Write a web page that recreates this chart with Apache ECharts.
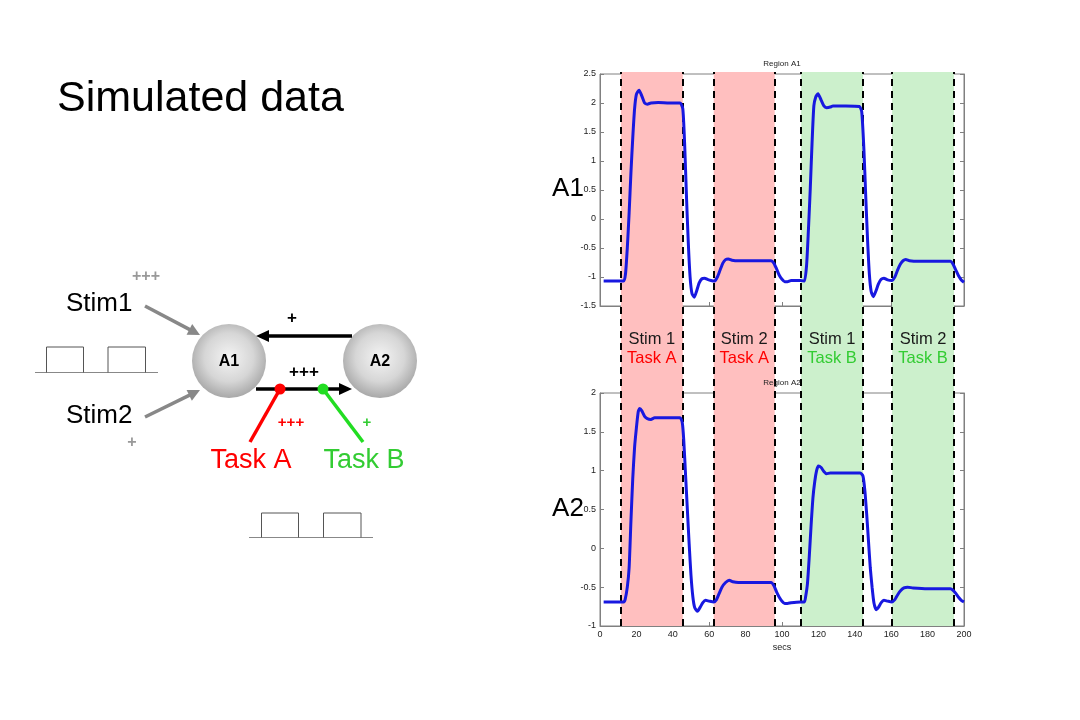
<!DOCTYPE html>
<html>
<head>
<meta charset="utf-8">
<script src="https://cdn.jsdelivr.net/npm/echarts@6/dist/echarts.min.js"></script>
<style>html,body{margin:0;padding:0;background:#fff;}#chart{width:1080px;height:720px;}</style>
</head>
<body>
<div id="chart"></div>
<script>
// ---- data ----
const xTicks = [0, 20, 40, 60, 80, 100, 120, 140, 160, 180, 200];
const blockStarts = [11.5, 62.5, 110.5, 160.5];
const blockEnds = [45.5, 96, 144.5, 194.5];
const blockStim = ['Stim 1', 'Stim 2', 'Stim 1', 'Stim 2'];
const blockTask = ['Task A', 'Task A', 'Task B', 'Task B'];

const timeA1 = [2,13,14,15,16,17,18,19,20,21.5,23,24.5,26,28,32,38,44,45.5,46.5,47.5,48.5,49.5,50.5,51.8,53,54.5,56,57.5,59,61,63,64.5,66,67.5,69,70.5,72.5,76,85,94,95.5,97,98.5,100,101.5,103,105,110,112.3,113.5,114.5,115.5,116.5,117.5,118.5,119.8,121.5,123,124.5,126.5,128,135,142.5,143.8,145,146,147,148,149,150.2,151.5,153,154.5,156,158,160.3,162,163.5,165,166.5,168,170,175,185,192.5,194,195.5,197,198.5,200];
const regionA1 = [-1.07,-1.07,-0.95,-0.5,0.1,0.8,1.4,1.9,2.15,2.22,2.12,2.0,1.98,2.0,2.01,2.0,2.0,1.9,1.3,0.4,-0.4,-1.0,-1.28,-1.35,-1.25,-1.1,-1.03,-1.02,-1.04,-1.06,-1.07,-1.0,-0.88,-0.76,-0.7,-0.69,-0.71,-0.72,-0.72,-0.72,-0.76,-0.86,-0.97,-1.04,-1.08,-1.08,-1.06,-1.06,-1.07,-0.8,-0.2,0.5,1.3,1.95,2.1,2.16,2.05,1.95,1.92,1.93,1.95,1.95,1.94,1.85,1.2,0.4,-0.35,-0.95,-1.25,-1.34,-1.25,-1.12,-1.04,-1.02,-1.05,-1.06,-1.0,-0.88,-0.78,-0.72,-0.7,-0.72,-0.73,-0.73,-0.73,-0.78,-0.88,-0.98,-1.05,-1.09];

const timeA2 = [2,13,13.8,15,16,17,18,19,20,21,21.8,23,24.5,26,28,30,35,44,45.2,46,47,48,49,50,51,52,53.5,55,56.5,58,60,62.5,64,65.5,67,69,71,73,76,85,94,95.5,97,98.5,100,101.5,103,105,110,112.3,113,114,115,116,117,118,119,120,121.5,123,124.5,126.5,135,143,144.5,145.5,146.5,147.5,148.5,149.5,150.5,151.8,153,154.5,156,158,160.3,162,163.5,165,167,169,172,180,192.5,194,195.5,197,198.5,200];
const regionA2 = [-0.69,-0.69,-0.66,-0.5,-0.25,0.35,0.9,1.3,1.55,1.76,1.8,1.77,1.7,1.67,1.66,1.68,1.68,1.68,1.62,1.4,0.95,0.5,0.05,-0.35,-0.62,-0.76,-0.81,-0.76,-0.7,-0.67,-0.68,-0.69,-0.66,-0.58,-0.5,-0.44,-0.41,-0.43,-0.44,-0.44,-0.44,-0.48,-0.56,-0.63,-0.68,-0.71,-0.71,-0.7,-0.69,-0.69,-0.62,-0.45,-0.1,0.3,0.65,0.86,1.0,1.06,1.04,0.99,0.96,0.97,0.97,0.97,0.93,0.75,0.45,0.1,-0.25,-0.5,-0.7,-0.79,-0.76,-0.7,-0.67,-0.68,-0.69,-0.66,-0.6,-0.55,-0.51,-0.5,-0.51,-0.52,-0.52,-0.54,-0.58,-0.63,-0.67,-0.69];

// ---- styling ----
const FONT = 'Arial, "Liberation Sans", Helvetica, sans-serif';
const PINK = '#FFBFBF', GREEN = '#CCF0CC';
const RED = '#FF0000', GRN = '#33CC33', GRAY = '#999999';

const chart = echarts.init(document.getElementById('chart'), null, {renderer: 'canvas'});

function zip(t, v) { return t.map((x, i) => [x, v[i]]); }

function arrow(x1, y1, x2, y2, color, w, head, half) {
  const dx = x2 - x1, dy = y2 - y1, L = Math.hypot(dx, dy);
  const ux = dx / L, uy = dy / L;
  const bx = x2 - ux * head, by = y2 - uy * head;
  const px = -uy * half, py = ux * half;
  return [
    {type: 'line', shape: {x1: x1, y1: y1, x2: bx + ux, y2: by + uy}, style: {stroke: color, lineWidth: w}},
    {type: 'polygon', shape: {points: [[x2, y2], [bx + px, by + py], [bx - px, by - py]]}, style: {fill: color}}
  ];
}
function txt(x, y, s, size, color, weight, align) {
  return {type: 'text', x: x, y: y, style: {text: s, font: (weight || 'normal') + ' ' + size + 'px ' + FONT,
    fill: color, textAlign: align || 'center', align: align || 'center', textVerticalAlign: 'middle', verticalAlign: 'middle'}};
}
function pulseTrain(x0, x1, base, top, p) {
  const els = [{type: 'line', shape: {x1: x0, y1: base, x2: x1, y2: base}, style: {stroke: '#888', lineWidth: 1.2}}];
  p.forEach(function (q) {
    els.push({type: 'polyline', shape: {points: [[q[0], base], [q[0], top], [q[1], top], [q[1], base]]},
      style: {stroke: '#555', lineWidth: 1, fill: null}});
  });
  return els;
}
function circle(cx, cy, r) {
  return {type: 'circle', shape: {cx: cx, cy: cy, r: r},
    style: {fill: new echarts.graphic.RadialGradient(0.5, 0.45, 0.55, [
      {offset: 0, color: '#f4f4f4'}, {offset: 0.6, color: '#d6d6d6'}, {offset: 1, color: '#a8a8a8'}])}};
}

const graphics = [].concat(
  [txt(146, 277, '+++', 16, GRAY, 'bold'),
   txt(66, 304, 'Stim1', 26, '#000', 'normal', 'left'),
   txt(66, 416, 'Stim2', 26, '#000', 'normal', 'left'),
   txt(132, 443, '+', 16, GRAY, 'bold')],
  arrow(145, 306, 200, 335, '#888', 3.5, 12, 6),
  arrow(145, 417, 200, 390, '#888', 3.5, 12, 6),
  pulseTrain(35, 158, 372.5, 347, [[46.5, 83.5], [108, 145.5]]),
  pulseTrain(249, 373, 537.5, 513, [[261.5, 298.5], [323.5, 361]]),
  [circle(229, 361, 37), circle(380, 361, 37)],
  arrow(352, 336, 256, 336, '#000', 3.5, 13, 6),
  arrow(256, 389, 352, 389, '#000', 3.5, 13, 6),
  [{type: 'line', shape: {x1: 280, y1: 389, x2: 250, y2: 442}, style: {stroke: RED, lineWidth: 3.5}},
   {type: 'line', shape: {x1: 323, y1: 389, x2: 363, y2: 442}, style: {stroke: '#22DD22', lineWidth: 3.5}},
   {type: 'circle', shape: {cx: 280, cy: 389, r: 5.5}, style: {fill: RED}},
   {type: 'circle', shape: {cx: 323, cy: 389, r: 5.5}, style: {fill: '#22DD22'}},
   txt(229, 362, 'A1', 16, '#000', 'bold'),
   txt(380, 362, 'A2', 16, '#000', 'bold'),
   txt(292, 318, '+', 17, '#000', 'bold'),
   txt(304, 372, '+++', 17, '#000', 'bold'),
   txt(291, 423, '+++', 15, RED, 'bold'),
   txt(367, 423, '+', 15, GRN, 'bold'),
   txt(251, 461, 'Task A', 27, RED),
   txt(364, 461, 'Task B', 27, GRN),
   txt(568, 189, 'A1', 26, '#000'),
   txt(568, 509, 'A2', 26, '#000')]
);

const axisLineStyle = {onZero: false, lineStyle: {color: '#808080', width: 1}};
const tickStyle = {show: true, inside: true, length: 4, lineStyle: {color: '#808080'}};
const labelStyle = {fontSize: 9, color: '#222', fontFamily: FONT, margin: 4};

function plotX(gi, showLabels) {
  return {gridIndex: gi, type: 'value', min: 0, max: 200, interval: 20,
    axisLine: Object.assign({show: true}, axisLineStyle), axisTick: tickStyle, splitLine: {show: false},
    axisLabel: Object.assign({show: showLabels}, labelStyle)};
}
function plotY(gi, min, max, right) {
  return {gridIndex: gi, type: 'value', min: min, max: max, interval: 0.5, position: right ? 'right' : 'left',
    axisLine: Object.assign({show: true}, axisLineStyle), axisTick: tickStyle, splitLine: {show: false},
    axisLabel: Object.assign({show: !right}, labelStyle)};
}

const bandData = blockStarts.map(function (s, i) {
  const isA = blockTask[i] === 'Task A';
  return [{xAxis: s, itemStyle: {color: isA ? PINK : GREEN},
           label: {formatter: '{s|' + blockStim[i] + '}\n{' + (isA ? 'a' : 'b') + '|' + blockTask[i] + '}'}},
          {xAxis: blockEnds[i]}];
});
const dashData = blockStarts.concat(blockEnds).map(function (x) { return {xAxis: x}; });

const option = {
  backgroundColor: '#fff',
  animation: false,
  title: [
    {text: 'Simulated data', left: 57, top: 78, padding: 0,
     textStyle: {fontSize: 43, fontWeight: 'normal', color: '#000', fontFamily: FONT}},
    {text: 'Region A1', left: 782, top: 60, padding: 0, textAlign: 'center',
     textStyle: {fontSize: 8, fontWeight: 'normal', color: '#222', fontFamily: FONT}},
    {text: 'Region A2', left: 782, top: 379, padding: 0, textAlign: 'center',
     textStyle: {fontSize: 8, fontWeight: 'normal', color: '#222', fontFamily: FONT}}
  ],
  grid: [
    {left: 600, width: 364, top: 72, height: 554, show: false},
    {left: 600, width: 364, top: 74, height: 232, show: true, borderColor: '#808080', borderWidth: 1, backgroundColor: 'transparent'},
    {left: 600, width: 364, top: 393, height: 233, show: true, borderColor: '#808080', borderWidth: 1, backgroundColor: 'transparent'}
  ],
  xAxis: [
    {gridIndex: 0, type: 'value', min: 0, max: 200, show: false},
    plotX(1, false),
    Object.assign(plotX(2, true), {name: 'secs', nameLocation: 'middle', nameGap: 17,
      nameTextStyle: {fontSize: 9, color: '#222', fontFamily: FONT}})
  ],
  yAxis: [
    {gridIndex: 0, type: 'value', min: 0, max: 1, show: false},
    plotY(1, -1.5, 2.5, false),
    plotY(2, -1, 2, false),
    plotY(1, -1.5, 2.5, true),
    plotY(2, -1, 2, true)
  ],
  series: [
    {name: 'blocks', type: 'scatter', xAxisIndex: 0, yAxisIndex: 0, data: [], silent: true, z: 1,
     markArea: {silent: true,
       label: {show: true, position: 'inside', lineHeight: 19,
         rich: {s: {fontSize: 16.5, color: '#1a1a1a', fontFamily: FONT, lineHeight: 19},
                a: {fontSize: 16.5, color: RED, fontFamily: FONT, lineHeight: 19},
                b: {fontSize: 16.5, color: GRN, fontFamily: FONT, lineHeight: 19}}},
       data: bandData},
     markLine: {silent: true, symbol: ['none', 'none'], label: {show: false},
       lineStyle: {color: '#000', width: 2, type: [7, 5]}, data: dashData}},
    {name: 'Region A1', type: 'line', xAxisIndex: 1, yAxisIndex: 1, data: zip(timeA1, regionA1),
     showSymbol: false, smooth: 0.2, z: 5, lineStyle: {color: '#1818E0', width: 3}},
    {name: 'Region A2', type: 'line', xAxisIndex: 2, yAxisIndex: 2, data: zip(timeA2, regionA2),
     showSymbol: false, smooth: 0.2, z: 5, lineStyle: {color: '#1818E0', width: 3}}
  ],
  graphic: graphics
};
chart.setOption(option);
</script>
</body>
</html>
